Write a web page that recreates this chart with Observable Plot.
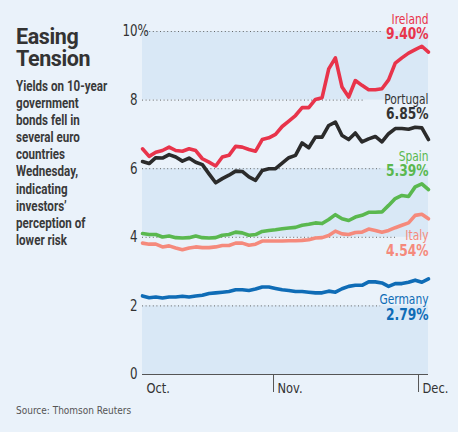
<!DOCTYPE html>
<html><head><meta charset="utf-8">
<script src="https://cdn.jsdelivr.net/npm/d3@7"></script>
<script src="https://cdn.jsdelivr.net/npm/@observablehq/plot@0.6"></script>
<style>
html,body{margin:0;padding:0;background:#eaf2fa;}
#wrap{position:relative;width:458px;height:432px;background:#eaf2fa;overflow:hidden;font-family:"DejaVu Sans Condensed",Roboto,sans-serif;color:#333;}
#chart{position:absolute;left:0;top:0;}
#title{position:absolute;left:16px;top:26px;font-family:Roboto,sans-serif;font-size:21.5px;line-height:22px;font-weight:700;color:#333;letter-spacing:-0.4px;}
#sub{position:absolute;left:16px;top:78px;font-family:Roboto,sans-serif;font-size:14.5px;line-height:17.1px;font-weight:700;color:#3a3a3a;white-space:nowrap;transform:scaleX(0.8);transform-origin:0 0;}
#source{position:absolute;left:16px;top:404px;font-size:10.5px;line-height:13px;color:#555;transform:scaleX(0.95);transform-origin:0 0;}
</style></head>
<body>
<div id="wrap">
  <div id="chart"></div>
  <div id="title">Easing<br>Tension</div>
  <div id="sub">Yields on 10-year<br>government<br>bonds fell in<br>several euro<br>countries<br>Wednesday,<br>indicating<br>investors’<br>perception of<br>lower risk</div>
  <div id="source">Source: Thomson Reuters</div>
</div>
<script>
// Trading-day values, early October to December 1
const ireland = [6.58,6.36,6.48,6.53,6.63,6.53,6.51,6.58,6.53,6.29,6.19,6.08,6.34,6.39,6.65,6.63,6.56,6.51,6.85,6.90,7.00,7.23,7.39,7.55,7.78,7.78,8.02,8.07,8.91,9.23,8.38,8.09,8.57,8.43,8.30,8.30,8.33,8.59,9.08,9.23,9.37,9.47,9.57,9.40];
const portugal = [6.21,6.15,6.32,6.31,6.41,6.34,6.22,6.31,6.19,6.12,5.85,5.59,5.71,5.81,5.93,5.92,5.76,5.66,5.95,6.00,6.00,6.16,6.32,6.39,6.75,6.61,6.92,6.92,7.26,7.36,6.97,6.85,7.04,6.78,6.87,6.94,6.78,7.02,7.17,7.17,7.15,7.21,7.19,6.85];
const spain = [4.11,4.08,4.08,4.01,4.04,3.99,3.98,3.99,4.04,3.99,3.98,3.99,4.06,4.08,4.15,4.13,4.06,4.08,4.17,4.20,4.22,4.25,4.27,4.29,4.35,4.38,4.42,4.40,4.52,4.66,4.54,4.49,4.59,4.64,4.73,4.73,4.74,4.93,5.13,5.22,5.19,5.47,5.56,5.39];
const italy = [3.83,3.80,3.80,3.72,3.75,3.69,3.64,3.69,3.72,3.70,3.70,3.72,3.76,3.76,3.83,3.83,3.77,3.80,3.89,3.89,3.89,3.89,3.90,3.90,3.91,3.93,3.98,3.99,4.05,4.18,4.10,4.08,4.14,4.15,4.24,4.20,4.15,4.20,4.28,4.35,4.42,4.64,4.67,4.54];
const germany = [2.29,2.24,2.26,2.23,2.26,2.26,2.28,2.26,2.29,2.31,2.36,2.38,2.40,2.42,2.47,2.47,2.45,2.49,2.55,2.55,2.51,2.47,2.45,2.42,2.42,2.40,2.38,2.38,2.43,2.40,2.50,2.57,2.60,2.60,2.70,2.70,2.67,2.57,2.65,2.65,2.69,2.75,2.69,2.79];

const countries = ["Germany","Italy","Spain","Portugal","Ireland"];
const seriesValues = [germany, italy, spain, portugal, ireland];

const monthLabels = ["Oct.", "Nov.", "Dec."];
const monthPositions = [0, 19.7, 41.5];   // trading-day index where each month label sits
const yTicks = [0, 2, 4, 6, 8, 10];
const bandRanges = [[0, 2], [4, 6], [8, 10]];

// styles
const style = {
  Germany:  {color: "#0f6cb6", nameColor: "#0f6cb6", dyName: 21, dyValue: 36},
  Italy:    {color: "#f58a7c", nameColor: "#f58a7c", dyName: 17, dyValue: 32},
  Spain:    {color: "#5ab84f", nameColor: "#5ab84f", dyName: -33, dyValue: -18.5},
  Portugal: {color: "#2b2b2b", nameColor: "#333333", dyName: -40, dyValue: -25.5},
  Ireland:  {color: "#e8344b", nameColor: "#e8344b", dyName: -32.5, dyValue: -18}
};
const gridEnd = {10: 36.1, 8: 33.2, 6: 35.8, 4: 38.4, 2: 35.8};

const rows = [];
countries.forEach((c, k) => seriesValues[k].forEach((v, i) => rows.push({name: c, i, v})));
const n = germany.length - 1;
const lastRows = countries.map((c, k) => ({name: c, v: seriesValues[k][n]}));
const monthRows = monthLabels.map((label, k) => ({label, at: monthPositions[k]}));
const gridRows = yTicks.filter(t => t > 0).map(t => ({t, end: gridEnd[t]}));

const fontFam = '"DejaVu Sans Condensed",Roboto,sans-serif';

const labelMarks = countries.flatMap(c => {
  const d = lastRows.filter(r => r.name === c);
  return [
    Plot.text(d, {x: n, y: "v", text: "name", textAnchor: "end", dy: style[c].dyName, fontSize: 13.5, fill: style[c].nameColor}),
    Plot.text(d, {x: n, y: "v", text: r => r.v.toFixed(2) + "%", textAnchor: "end", dy: style[c].dyValue, fontSize: 15.5, fontWeight: "bold", fill: style[c].nameColor})
  ];
});

const chart = Plot.plot({
  width: 458, height: 432,
  marginLeft: 142, marginRight: 30, marginTop: 31, marginBottom: 58,
  style: {background: "transparent", fontFamily: fontFam, color: "#333", overflow: "visible"},
  x: {domain: [0, n], axis: null},
  y: {domain: [0, 10], axis: null},
  marks: [
    Plot.rect(bandRanges, {x1: 0, x2: n, y1: d => d[0], y2: d => d[1], fill: "#d9e8f6"}),
    Plot.ruleY(gridRows, {y: "t", x1: 0, x2: "end", stroke: "#666", strokeDasharray: "1,2.6", strokeWidth: 1}),
    Plot.ruleY([0], {stroke: "#555", strokeWidth: 1}),
    Plot.axisY({ticks: yTicks, tickSize: 0, tickPadding: 5, fontSize: 15, tickFormat: d => String(d)}),
    Plot.text([10], {y: d => d, frameAnchor: "left", dx: -5, textAnchor: "start", text: () => "%", fontSize: 15, fill: "#333"}),
    Plot.axisX({ticks: monthPositions.slice(1), tickSize: 18, tickFormat: () => "", stroke: "#555"}),
    Plot.text(monthRows, {x: "at", text: "label", frameAnchor: "bottom", dy: 18, dx: 4, textAnchor: "start", fontSize: 14.5, fill: "#333"}),
    Plot.line(rows, {x: "i", y: "v", z: "name", stroke: d => style[d.name].color, strokeWidth: 3.6, strokeLinejoin: "round", strokeLinecap: "round"}),
    ...labelMarks
  ]
});
// narrow the SVG lettering around each text's anchor point (condensed type)
d3.select(chart).selectAll("text").each(function() {
  const t = this.getAttribute("transform");
  if (t && t.includes("translate")) this.setAttribute("transform", t + " scale(0.88,1)");
});
document.getElementById("chart").appendChild(chart);
</script>
</body></html>
